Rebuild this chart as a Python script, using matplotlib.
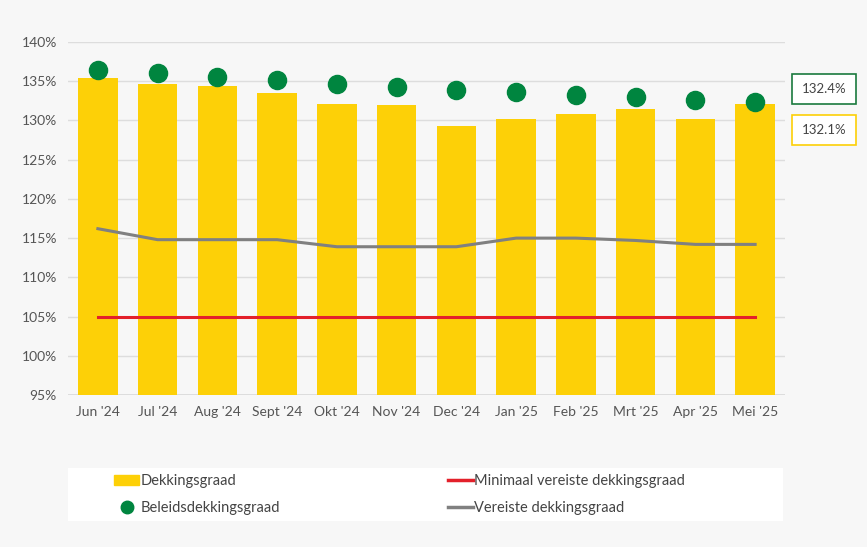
import matplotlib
matplotlib.use("Agg")
import matplotlib.pyplot as plt
from matplotlib.lines import Line2D
from matplotlib.patches import Patch

categories = ["Jun '24", "Jul '24", "Aug '24", "Sept '24", "Okt '24", "Nov '24", "Dec '24",
              "Jan '25", "Feb '25", "Mrt '25", "Apr '25", "Mei '25"]
dekkingsgraad = [135.4, 134.6, 134.4, 133.5, 132.1, 132.0, 129.3, 130.2, 130.8, 131.5, 130.2, 132.1]
beleids = [136.4, 136.0, 135.5, 135.2, 134.6, 134.3, 133.9, 133.6, 133.3, 133.0, 132.6, 132.4]
vereiste = [116.2, 114.8, 114.8, 114.8, 113.9, 113.9, 113.9, 115.0, 115.0, 114.7, 114.2, 114.2]
minimaal = [105.0] * 12
yticks = [95, 100, 105, 110, 115, 120, 125, 130, 135, 140]

plt.rcParams["font.family"] = "Lato"
bg = "#f7f7f7"
fig = plt.figure(figsize=(8.67, 5.47), dpi=100, facecolor=bg)
ax = fig.add_axes([68/867, 1-395/547, (785-68)/867, (395-42)/547], facecolor=bg)
x = list(range(len(categories)))
ax.bar(x, [d - 95 for d in dekkingsgraad], bottom=95, width=0.66, color="#fdd007", zorder=2)
ax.plot(x, minimaal, color="#e3202a", lw=2.2, zorder=3)
ax.plot(x, vereiste, color="#808080", lw=2.2, zorder=3)
ax.scatter(x, beleids, s=170, color="#00853f", zorder=4)
ax.set_ylim(95, 140)
ax.set_xlim(-0.5, 11.5)
ax.set_yticks(yticks)
ax.set_yticklabels([f"{t}%" for t in yticks], color="#555555", fontsize=10)
ax.set_xticks(x)
ax.set_xticklabels(categories, color="#555555", fontsize=10)
ax.yaxis.grid(True, color="#dddddd", lw=1, zorder=0)
ax.tick_params(length=0, pad=8)
for s in ax.spines.values():
    s.set_visible(False)
ax.axhline(95, color="#d9d9d9", lw=1.2, zorder=1)

# value labels on the right
fig.text(824/867, 1-89/547, f"{beleids[-1]}%", ha="center", va="center", fontsize=9.5, color="#444444",
         bbox=dict(boxstyle="square,pad=0.7", fc="white", ec="#1a7a3e", lw=1.2))
fig.text(824/867, 1-130/547, f"{dekkingsgraad[-1]}%", ha="center", va="center", fontsize=9.5, color="#444444",
         bbox=dict(boxstyle="square,pad=0.7", fc="white", ec="#fdd007", lw=1.2))

# legend box
lax = fig.add_axes([68/867, 1-521/547, (783-68)/867, (521-468)/547])
lax.set_facecolor("white")
lax.set_xticks([]); lax.set_yticks([])
for s in lax.spines.values():
    s.set_visible(False)
handles = [Patch(color="#fdd007"),
           Line2D([], [], marker="o", ls="", color="#00853f", ms=9),
           Line2D([], [], color="#e3202a", lw=2.5),
           Line2D([], [], color="#808080", lw=2.5)]
labels = ["Dekkingsgraad", "Beleidsdekkingsgraad", "Minimaal vereiste dekkingsgraad", "Vereiste dekkingsgraad"]
leg = lax.legend(handles, labels, ncol=2, loc="center left", frameon=False, fontsize=10.5,
                 handlelength=1.7, handletextpad=0.1, columnspacing=11.5, labelspacing=0.85,
                 bbox_to_anchor=(0.065, 0.5), borderaxespad=0, borderpad=0)
for t in leg.get_texts():
    t.set_color("#444444")
fig.savefig("out.png", dpi=100, facecolor=bg)
